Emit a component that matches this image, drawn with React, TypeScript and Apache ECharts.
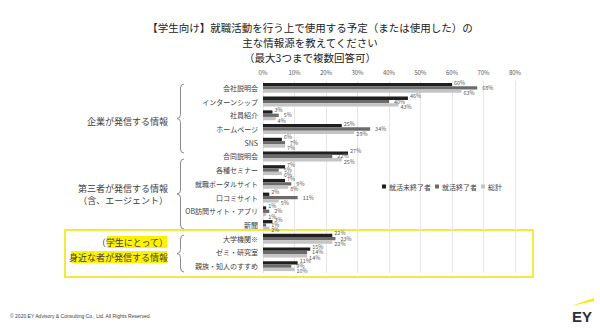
import React, { useEffect, useRef } from 'react';
import * as echarts from 'echarts';

const categories = ['会社説明会', 'インターンシップ', '社員紹介', 'ホームページ', 'SNS', '合同説明会', '各種セミナー', '就職ポータルサイト', '口コミサイト', 'OB訪問サイト・アプリ', '新聞', '大学機関※', 'ゼミ・研究室', '親族・知人のすすめ'];
const seriesNames = ['就活未終了者', '就活終了者', '総計'];
const unfinished = [60, 46, 3, 25, 6, 27, 7, 7, 2, 1, 3, 22, 15, 11];
const finished = [68, 40, 5, 34, 7, 22, 5, 9, 11, 2, 1, 23, 14, 9];
const total = [63, 43, 4, 29, 7, 25, 6, 8, 5, 1, 2, 22, 14, 10];
const seriesColors = ['#1f1f1f', '#6b6b6b', '#c4c4c4'];
const labelOffsets = [[0, -2], [3, 0], [0, 2]];
const titleLines = ['【学生向け】就職活動を行う上で使用する予定（または使用した）の', '主な情報源を教えてください', '（最大3つまで複数回答可）'];
const footer = '© 2020 EY Advisory & Consulting Co., Ltd. All Rights Reserved.';

const FONT = '"Noto Sans CJK JP", "Noto Sans", sans-serif';

function brace(x: number, y1: number, y2: number) {
  const ym = (y1 + y2) / 2;
  const st = { stroke: '#8c8c8c', lineWidth: 1, fill: null as any };
  return [
    { type: 'bezierCurve', shape: { x1: x + 4, y1: y1, x2: x + 0.5, y2: y1 + 4, cpx1: x + 0.5, cpy1: y1 }, style: st },
    { type: 'line', shape: { x1: x + 0.5, y1: y1 + 4, x2: x + 0.5, y2: ym - 4 }, style: st },
    { type: 'bezierCurve', shape: { x1: x + 0.5, y1: ym - 4, x2: x - 3, y2: ym, cpx1: x + 0.5, cpy1: ym }, style: st },
    { type: 'bezierCurve', shape: { x1: x - 3, y1: ym, x2: x + 0.5, y2: ym + 4, cpx1: x + 0.5, cpy1: ym }, style: st },
    { type: 'line', shape: { x1: x + 0.5, y1: ym + 4, x2: x + 0.5, y2: y2 - 4 }, style: st },
    { type: 'bezierCurve', shape: { x1: x + 0.5, y1: y2 - 4, x2: x + 4, y2: y2, cpx1: x + 0.5, cpy1: y2 }, style: st },
  ];
}

export default function App() {
  const ref = useRef<HTMLDivElement>(null);
  useEffect(() => {
    document.body.style.margin = '0';
    const chart = echarts.init(ref.current!, null, { renderer: 'svg' });
    const data = [unfinished, finished, total];
    chart.setOption({
      animation: false,
      textStyle: { fontFamily: FONT },
      grid: { left: 263, right: 85, top: 81, bottom: 55, containLabel: false },
      legend: {
        data: seriesNames,
        left: 377,
        top: 178,
        itemWidth: 4,
        itemHeight: 4,
        itemGap: 4,
        icon: 'rect',
        textStyle: { fontSize: 7, color: '#404040', fontFamily: FONT, padding: [0, 0, 0, -2] },
      },
      xAxis: {
        type: 'value',
        position: 'top',
        min: 0,
        max: 80,
        interval: 10,
        axisLine: { show: false },
        axisTick: { show: false },
        axisLabel: { formatter: '{value}%', fontSize: 6, color: '#595959', margin: 6 },
        splitLine: { lineStyle: { color: '#e0e0e0', width: 0.8 } },
      },
      yAxis: {
        type: 'category',
        data: categories,
        inverse: true,
        axisLine: { show: false },
        axisTick: { show: false },
        axisLabel: { fontSize: 7, color: '#404040', margin: 5 },
      },
      series: seriesNames.map((n, i) => ({
        name: n,
        type: 'bar',
        data: data[i],
        barWidth: 3.3,
        barGap: '0%',
        itemStyle: { color: seriesColors[i] },
        label: { show: true, position: 'right', distance: 2, offset: labelOffsets[i], fontSize: 5.5, color: '#595959', fontFamily: FONT, formatter: '{c}%' },
      })),
      graphic: [
        ...titleLines.map((t, i) => ({
          type: 'text', x: 310, y: 27 + i * 15,
          style: { text: t, fontSize: 10.5, fill: '#222', textAlign: 'center', textVerticalAlign: 'middle', fontFamily: FONT },
        })),
        ...brace(180, 84, 153),
        ...brace(180, 159, 229),
        ...brace(180, 235, 272),
        { type: 'rect', shape: { x: 65, y: 230, width: 468, height: 47 }, style: { fill: null, stroke: '#f0e400', lineWidth: 1.5 } },
        { type: 'rect', shape: { x: 107, y: 236, width: 60, height: 12 }, style: { fill: '#fff200' } },
        { type: 'rect', shape: { x: 71, y: 251, width: 96, height: 12 }, style: { fill: '#fff200' } },
        { type: 'text', x: 168, y: 121, style: { text: '企業が発信する情報', fontSize: 9, fill: '#404040', textAlign: 'right', textVerticalAlign: 'middle', fontFamily: FONT } },
        { type: 'text', x: 168, y: 188, style: { text: '第三者が発信する情報', fontSize: 9, fill: '#404040', textAlign: 'right', textVerticalAlign: 'middle', fontFamily: FONT } },
        { type: 'text', x: 168, y: 200, style: { text: '（含、エージェント）', fontSize: 9, fill: '#404040', textAlign: 'right', textVerticalAlign: 'middle', fontFamily: FONT } },
        { type: 'text', x: 168, y: 242, style: { text: '（学生にとって）', fontSize: 9, fill: '#404040', textAlign: 'right', textVerticalAlign: 'middle', fontFamily: FONT } },
        { type: 'text', x: 168, y: 257, style: { text: '身近な者が発信する情報', fontSize: 9, fill: '#404040', textAlign: 'right', textVerticalAlign: 'middle', fontFamily: FONT } },
        { type: 'text', x: 10, y: 316, style: { text: footer, fontSize: 5, fill: '#404040', textVerticalAlign: 'middle', fontFamily: 'Liberation Sans, sans-serif' } },
        { type: 'polygon', shape: { points: [[571, 306], [594, 298], [594, 301]] }, style: { fill: '#ffe600' } },
        { type: 'text', x: 572, y: 316, style: { text: 'EY', fontSize: 15, fontWeight: 'bold', fill: '#2e2e38', textVerticalAlign: 'middle', fontFamily: 'Liberation Sans, sans-serif' } },
      ],
    });
    return () => chart.dispose();
  }, []);
  return <div ref={ref} style={{ width: 600, height: 328 }} />;
}
